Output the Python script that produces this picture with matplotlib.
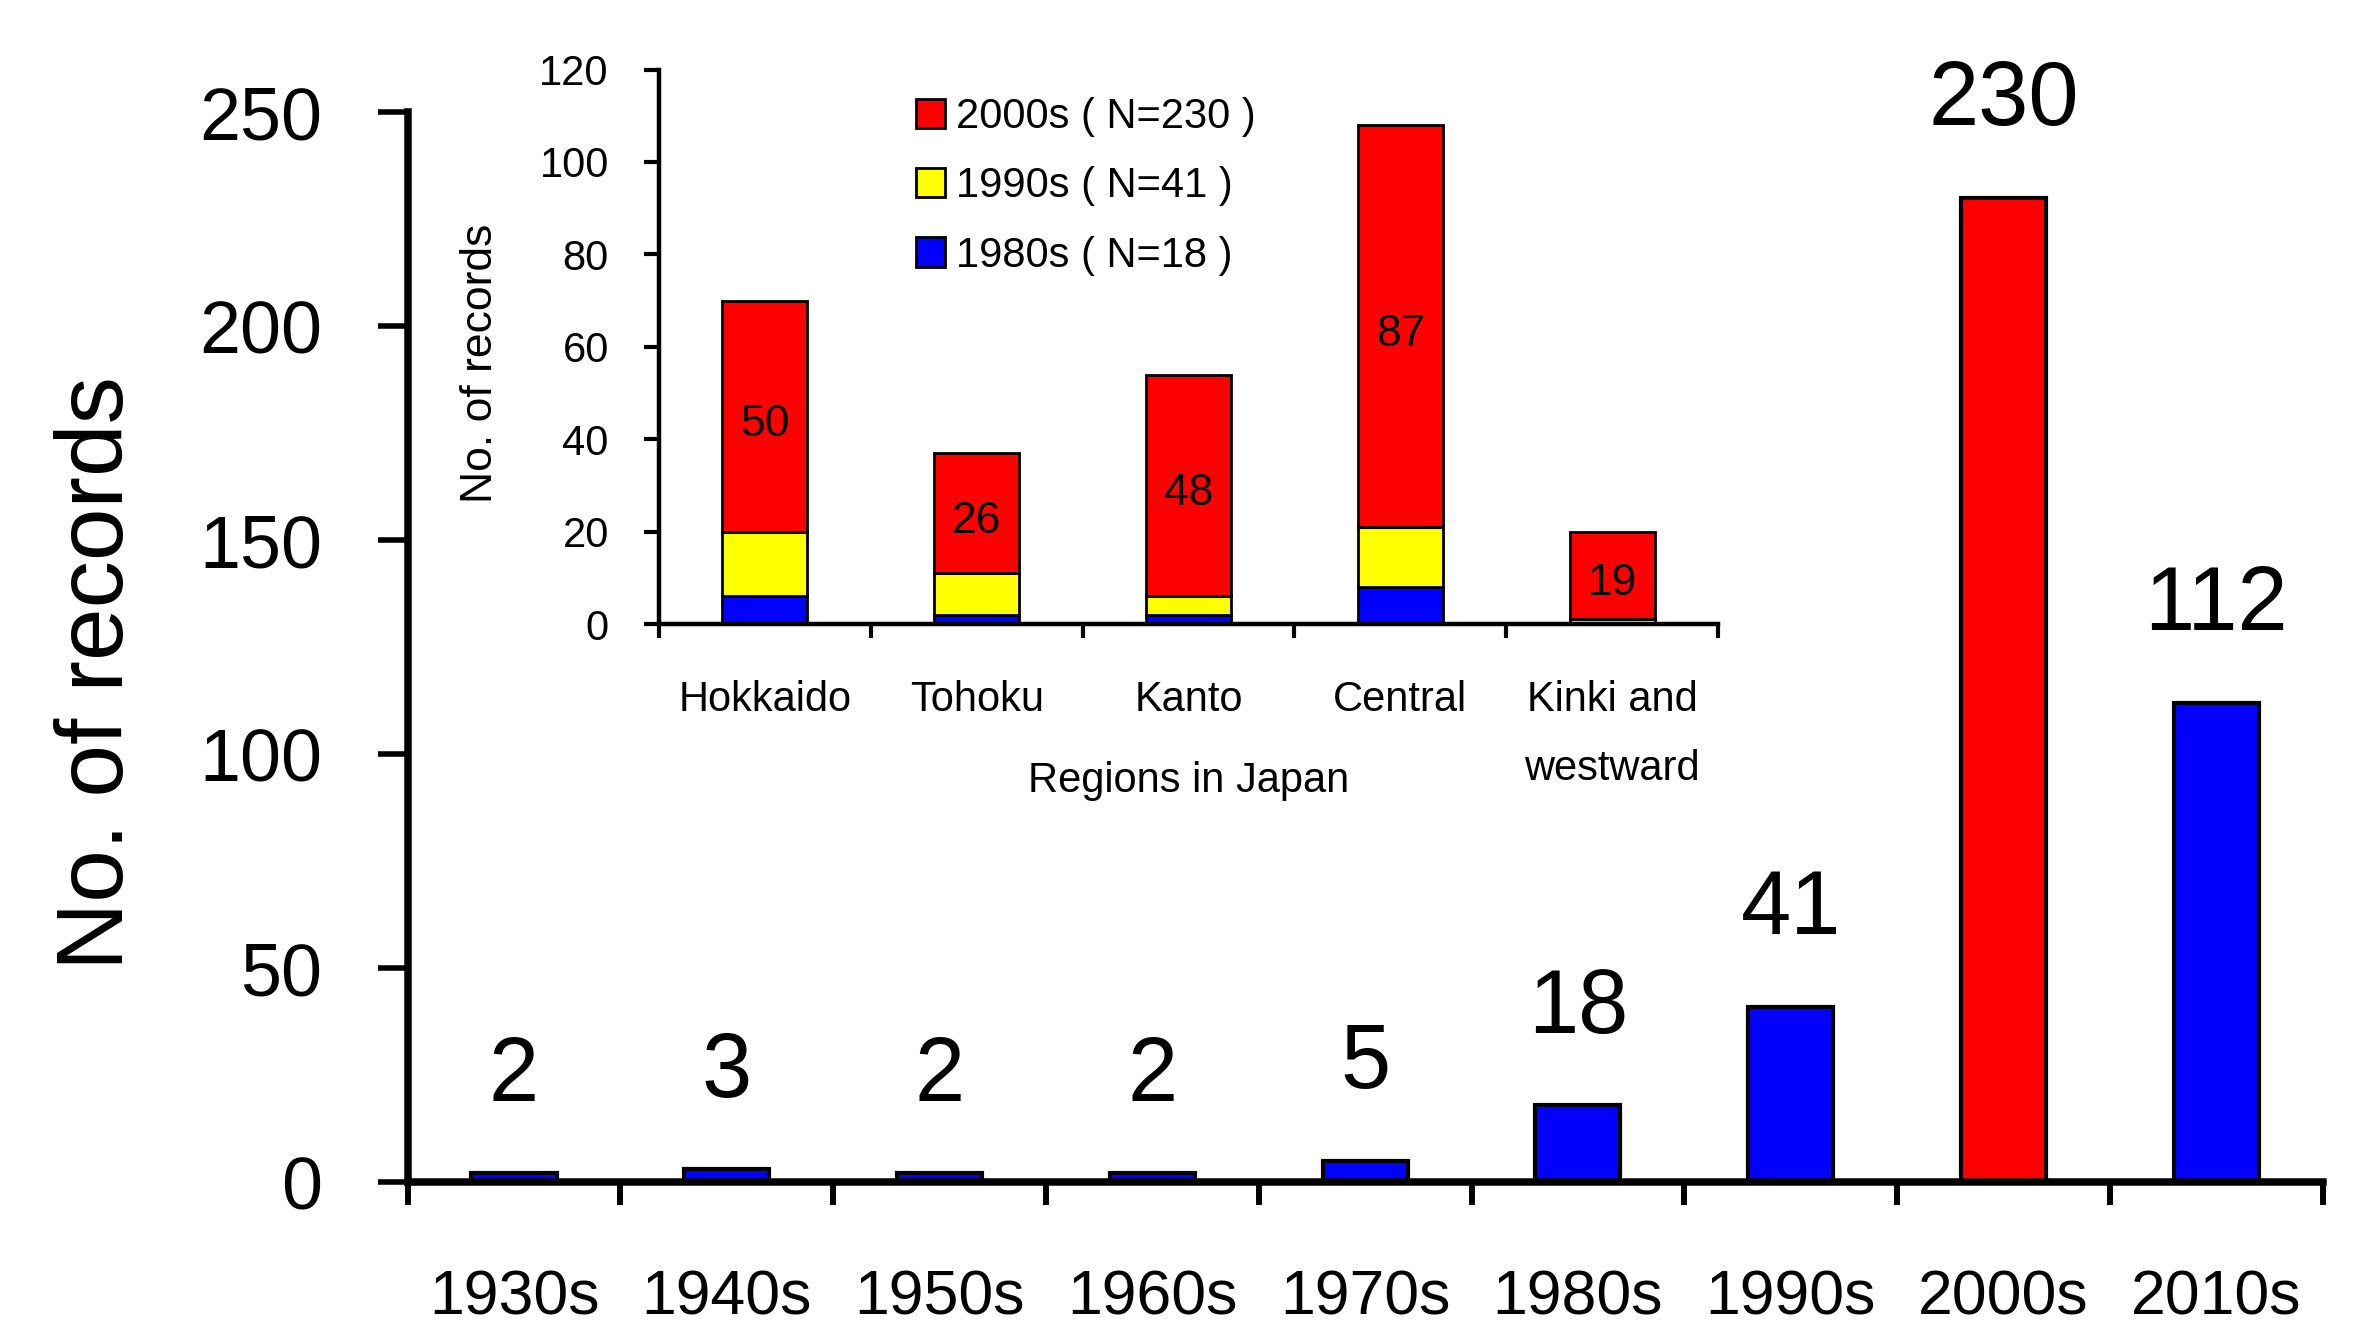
import numpy as np
import matplotlib
matplotlib.use('Agg')
import matplotlib.pyplot as plt

plt.rcParams['font.family'] = ['Liberation Sans', 'DejaVu Sans']

# main chart: records per decade
decades = ['1930s', '1940s', '1950s', '1960s', '1970s', '1980s', '1990s', '2000s', '2010s']
records = [2, 3, 2, 2, 5, 18, 41, 230, 112]

# inset: records by region, stacked by decade
regions = ['Hokkaido', 'Tohoku', 'Kanto', 'Central', 'Kinki and\nwestward']
rec_1980s = [6, 2, 2, 8, 0]
rec_1990s = [14, 9, 4, 13, 1]
rec_2000s = [50, 26, 48, 87, 19]

fig = plt.figure(figsize=(23.7, 13.32), dpi=100)

# ---- main axes ----
ax = fig.add_axes([0.172, 0.1126, 0.808, 0.8033])
x = np.arange(len(decades))
colors = ['red' if d == '2000s' else 'blue' for d in decades]
ax.bar(x, records, width=0.4, color=colors, edgecolor='black', linewidth=3, zorder=2)
for i, v in enumerate(records):
    ax.annotate(str(v), (i, v), xytext=(0, 52), textcoords='offset points',
                ha='center', va='baseline', fontsize=65)

ax.set_xlim(-0.5, len(decades) - 0.5)
ax.set_ylim(0, 250)
ax.set_yticks(np.arange(0, 251, 50))
ax.set_xticks(x)
ax.set_xticklabels(decades)
ax.set_xticks(np.arange(-0.5, len(decades), 1), minor=True)
for s in ['top', 'right']:
    ax.spines[s].set_visible(False)
for s in ['left', 'bottom']:
    ax.spines[s].set_linewidth(5.4)
    ax.spines[s].set_zorder(3)
ax.tick_params(axis='y', length=21.6, width=4, pad=40, labelsize=53)
ax.tick_params(axis='x', which='major', length=0, pad=62, labelsize=45)
ax.tick_params(axis='x', which='minor', length=16.5, width=4.3)
ax.set_ylabel('No. of records', fontsize=68)
ax.yaxis.set_label_coords(-0.1615, 0.4757)
ax.yaxis.label.set_va('center')

# ---- inset axes ----
ax2 = fig.add_axes([0.278, 0.5315, 0.447, 0.4163])
ax2.patch.set_alpha(0)
xr = np.arange(len(regions))
b1 = np.array(rec_1980s)
b2 = b1 + np.array(rec_1990s)
ax2.bar(xr, rec_1980s, width=0.4, color='blue', edgecolor='black', linewidth=2,
        label=f'1980s ( N={sum(rec_1980s)} )')
ax2.bar(xr, rec_1990s, width=0.4, bottom=b1, color='yellow', edgecolor='black', linewidth=2,
        label=f'1990s ( N={sum(rec_1990s)} )')
ax2.bar(xr, rec_2000s, width=0.4, bottom=b2, color='red', edgecolor='black', linewidth=2,
        label=f'2000s ( N={sum(rec_2000s)} )')
for i, r in enumerate(rec_2000s):
    ax2.annotate(str(r), (i, b2[i] + r / 2), xytext=(0, -6), textcoords='offset points',
                 ha='center', va='center', fontsize=32)

ax2.set_xlim(-0.5, len(regions) - 0.5)
ax2.set_ylim(0, 120)
ax2.set_yticks(np.arange(0, 121, 20))
ax2.set_xticks(xr)
ax2.set_xticklabels(regions, linespacing=1.95)
ax2.set_xticks(np.arange(-0.5, len(regions), 1), minor=True)
for s in ['top', 'right']:
    ax2.spines[s].set_visible(False)
for s in ['left', 'bottom']:
    ax2.spines[s].set_linewidth(3.2)
ax2.tick_params(axis='y', length=11, width=3, pad=25, labelsize=30)
ax2.tick_params(axis='x', which='major', length=0, pad=40, labelsize=30)
ax2.tick_params(axis='x', which='minor', length=10, width=3)
ax2.set_xlabel('Regions in Japan', fontsize=30, va='center')
ax2.xaxis.set_label_coords(0.5, -0.283)
ax2.set_ylabel('No. of records', fontsize=32, va='center')
ax2.yaxis.set_label_coords(-0.168, 0.471)

h, l = ax2.get_legend_handles_labels()
ax2.legend(h[::-1], l[::-1], loc='upper left', bbox_to_anchor=(0.3865, 0.927),
           bbox_transform=fig.transFigure, frameon=False, fontsize=30,
           handlelength=0.7, handleheight=0.7, handletextpad=0.25,
           labelspacing=0.7, borderpad=0, borderaxespad=0)

fig.savefig('out.png', dpi=100)
